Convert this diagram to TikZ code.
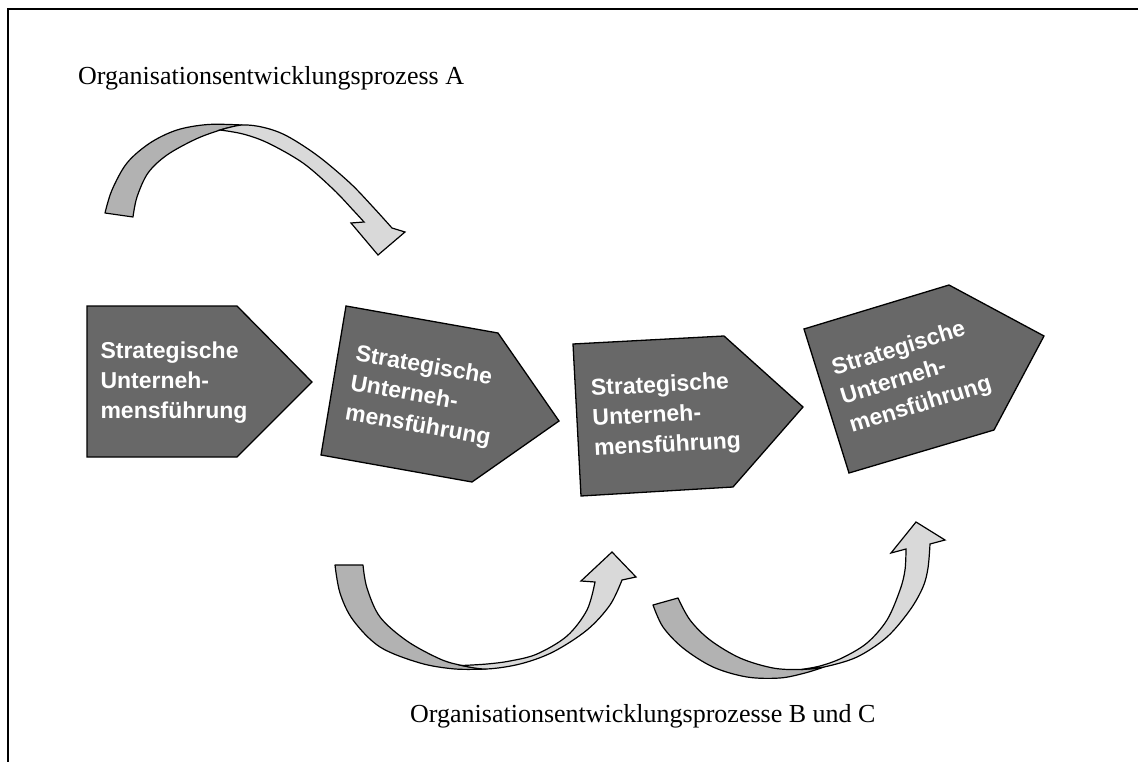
\documentclass[tikz,border=0pt]{standalone}
\usepackage{fontspec}
\setmainfont{Liberation Serif}
\newfontfamily\boxfont{Liberation Sans}
\definecolor{boxgray}{RGB}{104,104,104}
\definecolor{backgray}{RGB}{178,178,178}
\definecolor{frontgray}{RGB}{217,217,217}
\begin{document}
\begin{tikzpicture}[x=1pt,y=-1pt,
  box/.style={fill=boxgray, draw=black, line width=1.3pt, line join=miter},
  boxtext/.style={font=\boxfont\bfseries\fontsize{23}{30}\selectfont, text=white, align=left, inner sep=0pt},
  back/.style={fill=backgray, draw=black, line width=1.2pt, line join=round},
  front/.style={fill=frontgray, draw=black, line width=1.2pt, line join=miter},
  titletext/.style={font=\fontsize{26}{30}\selectfont, inner sep=0pt, anchor=west},
  sm/.style={smooth, tension=0.55}]
\useasboundingbox (0,0) rectangle (1138,762);
\draw[line width=2pt] (8,762) -- (8,9) -- (1140,9);

% pentagons
\draw[box] (87,306) -- (237,306) -- (312,382) -- (237,457) -- (87,457) -- cycle;
\draw[box] (346,306) -- (498,333) -- (559,421) -- (472,482) -- (321,455) -- cycle;
\draw[box] (573,344) -- (724,336) -- (803,407) -- (733,487) -- (581,496) -- cycle;
\draw[box] (804,329) -- (949,285) -- (1044,336) -- (994,430) -- (849,473) -- cycle;

\node[boxtext] (t1) at (174,383) {Strategische\\Unterneh-\\mensführung};
\node[boxtext, rotate=-10] (t2) at (423,397) {Strategische\\Unterneh-\\mensführung};
\node[boxtext, rotate=3] (t3) at (666,416) {Strategische\\Unterneh-\\mensführung};
\node[boxtext, rotate=17] (t4) at (912,377) {Strategische\\Unterneh-\\mensführung};

% arrow A (top)
\filldraw[back] plot[sm] coordinates {(105,213) (112,190) (127,163) (150,143) (177,130) (208,124.5) (242,125)}
  -- plot[sm] coordinates {(242,125) (222,129.5) (196,139) (167,155) (148,173) (137,197) (133,217)} -- cycle;
\filldraw[front] plot[sm] coordinates {(220,130) (242,125) (264,127.5) (287,136) (318,156) (350,183) (373,207) (392,228)}
  -- (405,232) -- (378,255) -- (351,223) -- (364,222)
  -- plot[sm] coordinates {(364,222) (353,210) (333,189) (303,163) (268,143) (243,134) (220,130)} -- cycle;

% arrow B
\filldraw[back] plot[sm] coordinates {(335,565) (340,593) (353,620) (380,647) (420,663) (455,669) (486,669)}
  -- plot[sm] coordinates {(486,669) (462,665.5) (440,659) (407,641) (380,617) (367,588) (363,565)} -- cycle;
\filldraw[front] plot[sm] coordinates {(462,665.5) (486,669) (520,664) (553,652) (587,630) (610,605) (622,580)}
  -- (636,577) -- (612,552) -- (581,581) -- (595,582)
  -- plot[sm] coordinates {(595,582) (587,610) (567,636) (537,654) (510,661) (487,664) (462,665.5)} -- cycle;

% arrow C
\filldraw[back] plot[sm] coordinates {(653,605) (663,627) (683,648) (713,667) (747,677) (780,678) (805,673) (824,667)}
  -- plot[sm] coordinates {(824,667) (801,669.5) (773,668) (740,658) (710,640) (690,620) (678,598)} -- cycle;
\filldraw[front] plot[sm] coordinates {(801,669.5) (824,667) (857,657) (887,637) (910,610) (923,587) (928,568) (930,544)}
  -- (945,540) -- (916,522) -- (891,553) -- (906,549)
  -- plot[sm] coordinates {(906,549) (905,570) (900,590) (887,620) (867,643) (842,658) (820,666) (801,669.5)} -- cycle;

% labels
\node[titletext] (la) at (78,78) {Organisationsentwicklungsprozess A};
\node[titletext] (lb) at (410,716) {Organisationsentwicklungsprozesse B und C};
\end{tikzpicture}
\end{document}
